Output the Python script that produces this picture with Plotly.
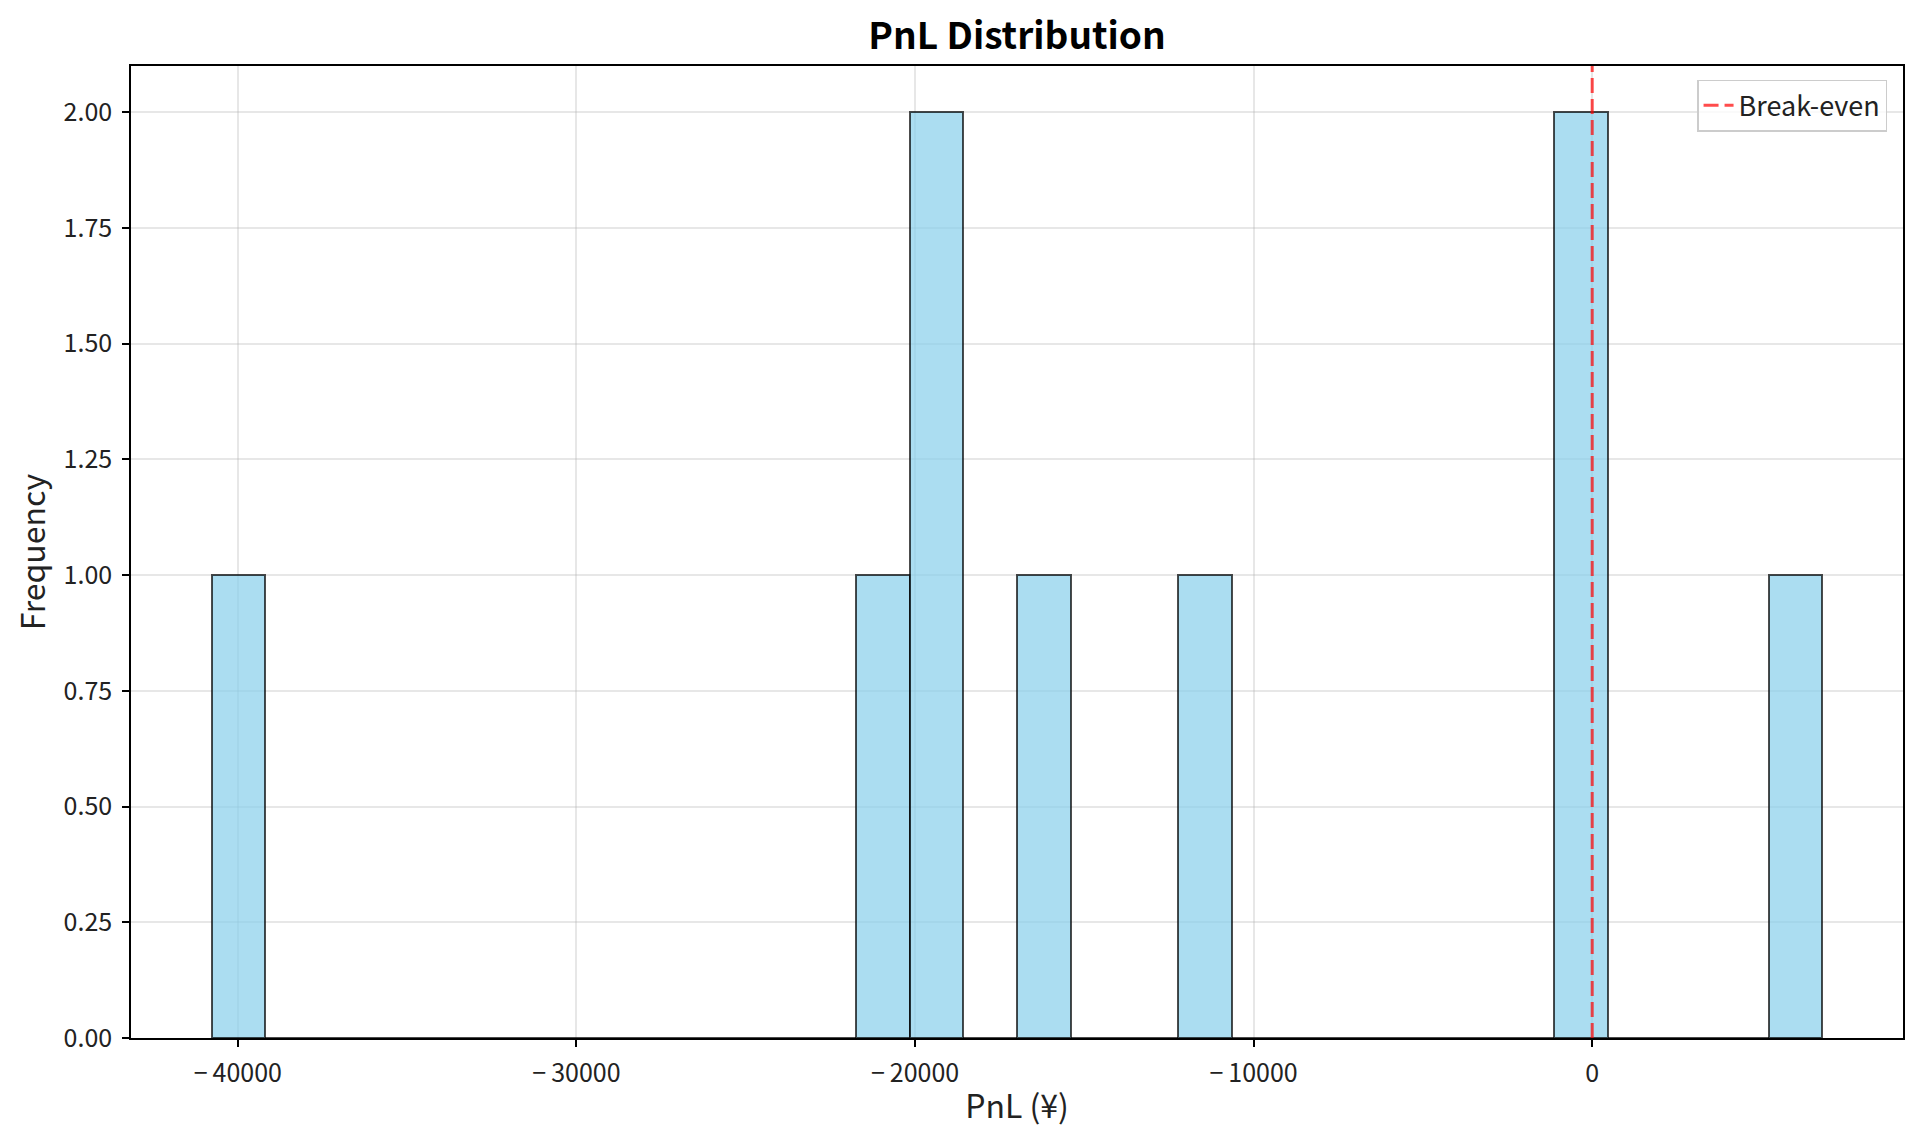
import numpy as np
import plotly.graph_objects as go

# PnL values (9 trades)
pnl = [-40775, -21500, -20000, -19300, -16500, -11800, -1000, -300, 6800]
n_bins = 30
break_even = 0
x_ticks = [-40000, -30000, -20000, -10000, 0]
x_tick_labels = ["\u2212\u200940000", "\u2212\u200930000", "\u2212\u200920000", "\u2212\u200910000", "0"]
y_ticks = [0, 0.25, 0.5, 0.75, 1.0, 1.25, 1.5, 1.75, 2.0]

counts, edges = np.histogram(pnl, bins=n_bins)
centers = (edges[:-1] + edges[1:]) / 2
widths = np.diff(edges)

span = edges[-1] - edges[0]
x_range = [edges[0] - 0.05 * span, edges[-1] + 0.05 * span]
y_range = [0, counts.max() * 1.05]

FONT = "Noto Sans CJK JP, Noto Sans, sans-serif"

fig = go.Figure()
fig.add_trace(go.Bar(
    x=centers, y=counts, width=widths,
    marker=dict(color="rgba(135,206,235,0.7)",
                line=dict(color="rgba(0,0,0,0.7)", width=2)),
    showlegend=False, hoverinfo="x+y",
))
fig.add_trace(go.Scatter(
    x=[break_even, break_even], y=y_range, mode="lines",
    line=dict(color="rgba(255,0,0,0.7)", width=3, dash="15px,6px"),
    name="Break-even",
))

axis_common = dict(
    showline=True, mirror=True, linecolor="black", linewidth=1.6,
    ticks="outside", ticklen=7, tickwidth=1.6, tickcolor="black",
    showgrid=True, gridcolor="rgba(176,176,176,0.3)", gridwidth=1.5,
    zeroline=False, ticklabelstandoff=5,
    tickfont=dict(family=FONT, size=25, color="#222"),
)

fig.update_layout(
    width=1920, height=1145,
    margin=dict(l=131, r=17, t=66, b=107),
    plot_bgcolor="white", paper_bgcolor="white",
    bargap=0,
    title=dict(text="<b>PnL Distribution</b>", x=0.5, xanchor="center",
               xref="paper", y=1 - 36 / 1145, yanchor="middle", yref="container",
               font=dict(family=FONT, size=37, color="black")),
    xaxis=dict(range=x_range, tickvals=x_ticks, ticktext=x_tick_labels,
               title=dict(text="PnL (¥)", font=dict(family=FONT, size=32, color="#222"), standoff=8),
               **axis_common),
    yaxis=dict(range=y_range, tickvals=y_ticks, tickformat=".2f",
               title=dict(text="Frequency", font=dict(family=FONT, size=32, color="#222"), standoff=8),
               **axis_common),
    legend=dict(x=0.991, y=0.986, xanchor="right", yanchor="top",
                bgcolor="rgba(255,255,255,0.8)", bordercolor="#cccccc", borderwidth=1.5,
                font=dict(family=FONT, size=27, color="#222")),
)

fig.write_html("out.html")
